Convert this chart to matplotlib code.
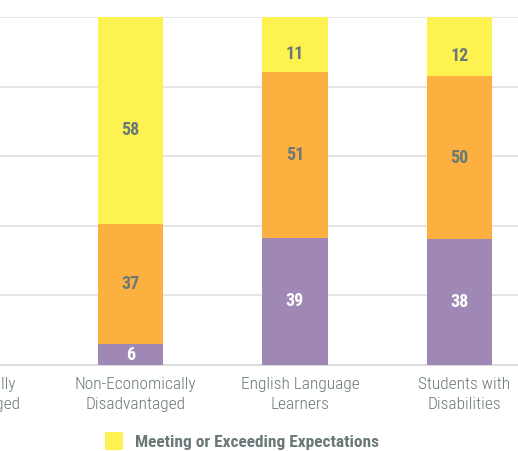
import matplotlib
matplotlib.use('Agg')
import matplotlib.pyplot as plt
from matplotlib.patches import Patch

# categories (the first one is cut off at the left edge of the picture)
categories = ['Economically\nDisadvantaged', 'Non-Economically\nDisadvantaged',
              'English Language\nLearners', 'Students with\nDisabilities']
shown = [1, 2, 3]
# printed labels
not_meeting = [6, 39, 38]
approaching = [37, 51, 50]
meeting = [58, 11, 12]
# bar lengths as drawn in the picture (percent of the bar)
not_meeting_bar = [6.0, 36.6, 36.1]
approaching_bar = [34.6, 47.7, 47.0]
meeting_bar = [59.4, 15.7, 16.9]
yticks = [0, 20, 40, 60, 80, 100]

PURPLE = '#9f88b5'
ORANGE = '#fbb040'
YELLOW = '#fef250'
GREY = '#6b7878'
FONT = ['Roboto Condensed', 'DejaVu Sans']

def main():
    plt.rcParams['font.family'] = FONT
    fig = plt.figure(figsize=(5.18, 4.51), dpi=100)
    ax = fig.add_axes([0, 1 - 365 / 451, 1, (365 - 17) / 451])

    w = 0.398
    b2 = [a + b for a, b in zip(not_meeting_bar, approaching_bar)]
    ax.bar(shown, not_meeting_bar, w, color=PURPLE, zorder=3)
    ax.bar(shown, approaching_bar, w, bottom=not_meeting_bar, color=ORANGE, zorder=3)
    ax.bar(shown, meeting_bar, w, bottom=b2, color=YELLOW, zorder=3)

    for i, x in enumerate(shown):
        a, b, c = not_meeting_bar[i], approaching_bar[i], meeting_bar[i]
        ax.text(x, a / 2, str(not_meeting[i]), ha='center', va='center', color='white',
                fontsize=13, fontweight='bold', zorder=4)
        ax.text(x, a + b / 2, str(approaching[i]), ha='center', va='center', color=GREY,
                fontsize=13, fontweight='bold', zorder=4)
        # top labels sit a little below the middle of the yellow piece
        ax.text(x, a + b + c / 2 - 2.8, str(meeting[i]), ha='center', va='center', color=GREY,
                fontsize=13, fontweight='bold', zorder=4)

    ax.set_ylim(0, 100)
    ax.set_xlim(1 - 130.5 / 164.5, 1 + (518 - 130.5) / 164.5)
    ax.set_yticks(yticks)
    ax.yaxis.grid(True, color='#e0e0e0', linewidth=1.2, zorder=0)
    ax.tick_params(left=False, labelleft=False, bottom=False, labelbottom=False)
    for s in ['left', 'right', 'top']:
        ax.spines[s].set_visible(False)
    ax.spines['bottom'].set_color('#d8d8d8')
    ax.spines['bottom'].set_linewidth(1.2)

    for i, lab in enumerate(categories):
        ax.text(i + 0.03, -3.5, lab, ha='center', va='top', color=GREY, fontsize=12.5,
                fontweight='light', linespacing=1.38, clip_on=False)

    handles = [Patch(facecolor=YELLOW, label='Meeting or Exceeding Expectations')]
    leg = fig.legend(handles=handles, loc='center left', bbox_to_anchor=(0.203, 1 - 441 / 451),
                     frameon=False, handlelength=1.0, handleheight=1.3, handletextpad=0.7,
                     borderpad=0, borderaxespad=0,
                     prop={'family': FONT, 'weight': 'bold', 'size': 12.5})
    for t in leg.get_texts():
        t.set_color(GREY)

    fig.savefig('out.png', dpi=100)

if __name__ == '__main__':
    main()
